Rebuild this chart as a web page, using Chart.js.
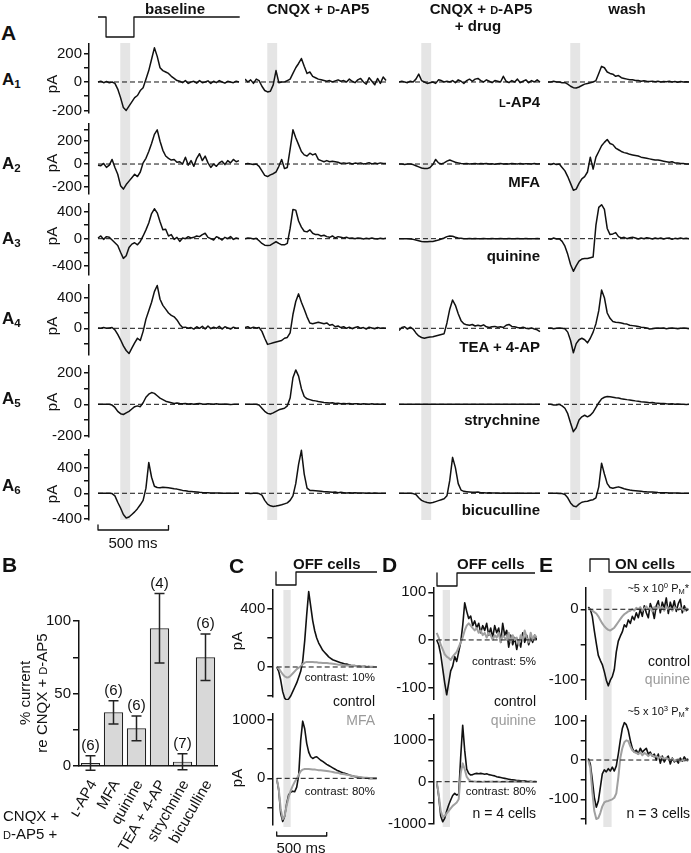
<!DOCTYPE html>
<html>
<head>
<meta charset="utf-8">
<title>Currents, panels A-E</title>
<script src="https://cdn.jsdelivr.net/npm/chart.js@4.4.1/dist/chart.umd.min.js"></script>
<style>
  html, body { margin: 0; padding: 0; background: #fff; }
  body { position: relative; width: 691px; height: 853px; overflow: hidden;
         font-family: "Liberation Sans", Arial, Helvetica, sans-serif; color: #111; }
  canvas { position: absolute; }
  .t { position: absolute; white-space: nowrap; line-height: 1; }
  .b { font-weight: bold; }
  .sc { font-variant: small-caps; }
  .g { color: #9a9a9a; }
  .t sub { font-size: 0.68em; vertical-align: -0.3em; }
  .t sup { font-size: 0.7em; vertical-align: 0.45em; }
</style>
</head>
<body>
<script>
// ---- time grid (ms), shared by all traces ----
const tA = [0,20,40,60,80,100,120,140,160,180,200,220,240,260,280,300,320,340,360,380,400,
  420,440,460,480,500,520,540,560,580,600,620,640,660,680,700,720,740,760,780,800,
  820,840,860,880,900,920,940,960,980,1000];

// ---- panel A traces (pA) ----
const a1Base = [0,5,-5,3,-5,0,-10,-50,-110,-180,-200,-170,-140,-110,-95,-60,-40,20,80,160,240,180,100,80,70,60,40,25,10,
  5,-5,10,-10,0,5,-8,10,-5,0,8,-10,5,-5,10,0,-8,5,0,-5,5,0];
const a1Cnqx = [20,0,15,-10,20,10,-30,-60,-70,-65,-20,80,-5,0,0,10,20,60,100,130,165,110,60,70,40,30,20,15,10,5,10,
  0,8,15,5,10,0,20,5,-5,15,25,0,-15,30,5,-20,25,-10,35,10];
const a1Drug = [0,5,0,-5,5,0,20,55,10,0,-10,-5,0,-10,15,10,0,5,0,10,-5,15,5,-10,10,20,5,20,25,10,
  0,15,5,-5,10,5,0,40,5,-5,10,0,20,-5,5,15,-5,10,0,15,0];
const a1Wash = [0,0,5,0,0,-5,-5,-15,-30,-40,-42,-35,-25,-15,-10,-5,0,10,60,110,100,70,60,55,40,45,30,25,20,15,
  15,10,10,5,8,5,3,6,2,5,0,4,2,5,0,3,-2,4,0,2,0];

const a2Base = [-10,-15,5,-30,-10,40,-30,-90,-190,-220,-180,-150,-120,-90,-110,-70,10,50,110,180,260,300,200,120,70,50,35,40,15,20,
  0,60,-10,30,-20,50,90,30,70,10,-30,0,-20,10,25,-5,30,10,40,20,30];
const a2Cnqx = [0,5,0,-5,0,-20,-60,-100,-110,-95,-85,-70,-20,40,-40,-30,130,300,230,170,110,80,70,95,80,90,40,30,20,30,
  20,25,20,15,5,10,5,10,0,8,5,10,0,5,12,0,8,3,10,5,5];
const a2Drug = [0,0,-5,0,0,-5,-15,-25,-35,-40,-40,-30,-5,40,10,0,10,25,35,25,15,10,5,3,5,0,3,5,0,4,
  2,5,0,3,-2,2,5,0,3,0,4,2,0,5,0,3,2,0,4,0,2];
const a2Wash = [0,-5,5,-5,0,-30,-60,-110,-170,-230,-220,-170,-130,-110,-70,60,-45,60,110,160,190,215,180,170,140,125,110,100,95,85,
  80,75,70,60,55,50,45,40,35,35,30,25,20,15,20,10,10,5,5,0,0];

const a3Base = [10,40,-10,30,20,-20,-60,-100,-200,-290,-250,-130,-80,-60,-90,-40,40,130,230,370,440,380,250,130,140,40,60,-10,20,-40,
  10,0,30,10,20,40,30,60,80,20,0,-20,30,10,-20,20,0,30,-10,10,0];
const a3Cnqx = [0,10,5,-5,5,-30,-70,-95,-100,-95,-70,-45,-70,-90,-90,-70,150,430,420,260,170,110,100,130,80,60,60,40,50,30,
  20,40,10,30,20,10,20,5,10,0,10,5,-5,5,0,10,0,-5,5,0,5];
const a3Drug = [0,0,0,0,-5,-10,-20,-30,-40,-45,-45,-40,-40,-30,-20,-5,10,30,40,35,20,10,5,0,0,3,0,2,0,0,
  3,0,0,2,0,0,3,0,0,2,0,0,3,0,0,2,0,0,0,3,0];
const a3Wash = [0,-10,10,-5,0,-40,-110,-230,-380,-480,-400,-330,-300,-290,-290,-280,-270,200,460,500,430,150,60,70,90,30,10,20,0,15,
  20,10,-5,10,0,15,5,-5,10,0,10,-5,5,10,-10,5,0,10,0,5,0];

const a4Base = [5,0,10,0,5,10,-20,-80,-150,-230,-290,-330,-260,-190,-130,-160,-40,120,230,340,480,560,380,300,250,200,170,150,110,50,
  10,15,0,10,-10,20,0,25,-10,30,-5,15,0,25,-10,20,5,-10,15,0,5];
const a4Cnqx = [10,20,0,15,5,10,-40,-130,-210,-200,-190,-180,-170,-160,-130,-120,-60,180,350,450,340,250,150,70,60,70,80,70,60,70,
  40,50,20,30,10,20,0,15,-5,10,20,0,10,-10,15,5,-5,10,0,5,0];
const a4Drug = [-30,10,20,-10,15,-10,-60,-100,-120,-130,-120,-115,-110,-100,-90,-80,-70,70,250,370,300,190,100,60,45,40,50,30,40,30,
  45,20,10,20,25,15,20,10,40,50,25,20,10,5,15,0,-5,5,-10,-20,-45];
const a4Wash = [0,5,-5,0,5,0,-5,-50,-160,-320,-200,-150,-130,-150,-190,-130,-50,60,230,500,400,200,130,90,80,75,70,60,55,40,
  35,30,25,15,10,5,-10,-5,0,5,0,5,-5,0,5,0,-5,0,5,0,-5];

const a5Base = [0,0,0,0,0,-5,-20,-45,-60,-65,-55,-45,-30,-15,-10,-15,10,45,65,75,70,55,40,30,20,15,10,5,8,5,
  3,5,2,4,0,3,5,2,0,3,2,0,3,1,0,2,0,-2,0,1,0];
const a5Cnqx = [0,0,0,0,0,-5,-25,-45,-58,-62,-55,-45,-35,-30,-25,-10,40,170,220,180,100,50,35,30,25,22,18,15,12,10,
  8,10,5,7,4,6,3,5,2,4,3,1,4,2,0,3,1,2,0,2,1];
const a5Drug = [0,0,0,0,0,0,0,0,0,0,0,0,0,0,0,0,0,0,0,0,0,0,0,0,0,0,0,0,0,0,
  0,0,0,0,0,0,0,0,0,0,0,0,0,0,0,0,0,0,0,0,0];
const a5Wash = [0,0,-5,-5,0,-10,-25,-60,-120,-175,-150,-100,-80,-70,-80,-70,-50,-20,10,35,45,50,48,45,42,40,36,33,30,28,
  25,22,20,17,15,13,10,12,8,7,5,6,3,2,3,0,2,0,0,-2,0];

const a6Base = [0,0,0,0,0,-5,-40,-140,-230,-330,-385,-370,-330,-290,-240,-180,-110,80,480,250,110,90,85,95,90,85,80,70,65,55,
  45,40,30,28,25,20,15,12,10,8,5,5,3,3,2,2,0,0,0,0,0];
const a6Cnqx = [0,0,-5,0,0,-5,-30,-110,-170,-195,-205,-200,-190,-180,-165,-150,-110,-40,150,450,670,300,80,45,45,40,35,30,25,25,
  20,15,20,10,15,10,5,8,5,10,5,3,6,2,5,0,3,0,2,0,0];
const a6Drug = [0,0,0,0,0,-5,-20,-70,-110,-130,-145,-150,-145,-130,-115,-100,-85,-40,200,560,400,150,50,30,25,20,15,15,20,10,
  10,5,10,5,3,5,2,4,0,3,2,0,3,0,2,0,0,2,0,0,0];
const a6Wash = [0,0,0,0,-5,-5,-20,-70,-150,-200,-210,-170,-140,-130,-125,-110,-100,-70,100,470,300,150,90,80,90,100,85,70,60,50,
  45,40,35,30,25,22,20,18,15,12,10,10,8,5,5,5,3,0,0,2,0];

// ---- panel B ----
const drugs = ['\u029F-AP4', 'MFA', 'quinine', 'TEA + 4-AP', 'strychnine', 'bicuculline'];
const pct = [2, 37, 26, 95, 3, 75];
const sem = [5, 8, 8.5, 24, 5.5, 16];
const nCells = [6, 6, 6, 4, 7, 6];

// ---- panel C (OFF cells, control vs MFA) ----
const cTopCtl = [0,-30,-90,-170,-215,-230,-220,-200,-170,-140,-110,-70,-30,40,180,360,520,420,320,250,200,165,140,115,100,85,70,60,50,45,
  40,35,30,25,20,20,15,12,10,10,5,8,5,3,5,0,3,0,2,0,0];
const cTopMfa = [0,-10,-30,-50,-65,-72,-70,-60,-45,-30,-15,-5,5,20,30,35,35,35,35,33,32,30,30,28,28,27,25,24,22,20,
  18,16,15,13,12,10,10,8,7,6,5,5,4,3,3,2,2,1,1,0,0];
const cBotCtl = [0,-200,-600,-740,-650,-430,-280,-240,-220,-230,-150,50,650,980,850,600,450,370,340,360,370,340,310,290,265,240,220,200,180,160,
  140,125,110,95,85,75,60,50,40,30,25,20,15,10,5,5,0,0,0,0,0];
const cBotMfa = [0,-180,-520,-700,-640,-460,-320,-210,-130,-60,-10,60,120,150,160,160,160,155,150,150,145,140,140,135,130,125,120,115,110,100,
  95,90,80,75,70,60,55,50,40,35,30,25,20,15,10,8,5,3,0,0,0];

// ---- panel D (OFF cells, control vs quinine) ----
const dTopCtl = [0,-10,-30,-60,-90,-115,-90,-65,-55,-35,-45,-25,-5,30,78,60,45,50,30,40,25,35,15,30,20,35,10,25,5,30,
  15,25,-5,35,10,20,-15,10,-10,5,-20,0,-15,15,-5,10,-10,5,-5,10,0];
const dTopQui = [15,5,-10,-20,-30,-35,-38,-42,-35,-30,-25,-15,-5,5,20,30,35,30,25,20,25,15,20,10,15,5,15,10,0,10,
  5,15,-5,10,5,0,15,-5,10,0,5,-10,10,0,20,5,-5,15,0,10,5];
const dBotCtl = [0,-350,-820,-960,-880,-700,-560,-440,-330,-280,-320,-300,600,1350,750,300,200,160,170,190,200,190,200,190,180,190,170,160,150,140,
  120,110,100,90,80,70,60,50,45,40,30,25,20,15,20,10,5,10,0,5,0];
const dBotQui = [0,-300,-700,-850,-820,-760,-700,-640,-580,-540,-500,-420,200,440,300,120,50,20,10,5,0,5,0,-5,5,0,3,-3,5,0,
  3,0,-5,2,0,5,0,-3,2,0,3,0,-2,0,2,0,-3,0,2,0,0];

// ---- panel E (ON cells, control vs quinine) ----
const eTopCtl = [3,0,-10,-30,-48,-65,-72,-78,-88,-100,-108,-100,-95,-85,-60,-45,-38,-32,-22,-25,-15,-20,-10,-15,-5,-12,0,-10,5,-5,
  -12,8,0,-13,5,12,-5,10,2,16,-6,10,0,12,-3,8,14,-5,5,-2,0];
const eTopQui = [0,0,-2,-4,-6,-10,-15,-20,-24,-27,-29,-30,-28,-26,-22,-18,-14,-10,-7,-5,-3,-2,0,-2,2,0,3,-2,1,4,
  0,2,-3,3,0,5,1,3,-2,4,0,2,-2,3,1,-1,2,0,-2,1,0];
const eBotCtl = [4,-10,-50,-95,-120,-105,-70,-35,-25,-30,-22,-28,-18,-28,-15,15,50,80,95,90,75,50,30,20,25,15,30,20,25,30,
  15,20,10,15,0,15,-8,10,-5,5,10,-10,5,-5,0,-8,5,-3,8,0,3];
const eBotQui = [0,-20,-80,-130,-150,-148,-135,-118,-108,-105,-104,-102,-100,-96,-85,-45,5,30,45,50,48,35,25,20,18,15,20,12,18,15,
  10,15,12,8,10,5,8,6,3,5,2,0,3,-2,0,2,-3,0,-2,0,-3];

// ---- light steps and scale bars (ms, level) ----
const stepOffT = [0, 57, 57, 255, 255, 1005];
const stepOffV = [1, 1, 0, 0, 1, 1];
const stepCT = [-7, -7, 193, 193, 1003];
const stepCV = [1, 0, 0, 1, 1];
const stepDT = [3, 3, 203, 203, 983];
const stepDV = [1, 0, 0, 1, 1];
const stepET = [17, 17, 207, 207, 1025];
const stepEV = [0, 1, 1, 0, 0];
const barT = [0, 0, 500, 500];
const barV = [1, 0, 0, 1];
const zeroT = [0, 1000];
const zeroV = [0, 0];

// ------------------------------------------------------------------
const INK = '#111';
const GRAY = '#a0a0a0';
const FONT = '"Liberation Sans", Arial, Helvetica, sans-serif';
Chart.defaults.font.family = FONT;
Chart.defaults.color = INK;

const bandPlugin = {
  id: 'band',
  beforeDatasetsDraw(chart, args, o) {
    if (!o || o.from == null) return;
    const x = chart.scales.x;
    const a = x.getPixelForValue(o.from), b = x.getPixelForValue(o.to);
    const ctx = chart.ctx;
    ctx.save();
    ctx.fillStyle = '#e5e5e5';
    ctx.fillRect(a, o.top, b - a, o.bottom - o.top);
    ctx.restore();
  }
};

// numbers on the y axis, placed with the y scale
const yLabelPlugin = {
  id: 'ylab',
  afterDraw(chart, args, o) {
    if (!o || !o.vals) return;
    const s = chart.scales.y, ctx = chart.ctx;
    ctx.save();
    ctx.font = o.size + 'px ' + FONT;
    ctx.fillStyle = INK;
    ctx.textAlign = 'right';
    ctx.textBaseline = 'middle';
    o.vals.forEach(v => ctx.fillText(String(v), chart.chartArea.left - 7, s.getPixelForValue(v)));
    ctx.restore();
  }
};

function multiples(lo, hi, step) {
  const out = [];
  for (let v = Math.ceil(lo / step) * step; v <= hi; v += step) out.push(v);
  return out;
}

function plot(o) {
  const [left, top, w, h] = o.box;
  const c = document.createElement('canvas');
  c.width = w; c.height = h;
  c.style.left = left + 'px'; c.style.top = top + 'px';
  c.style.width = w + 'px'; c.style.height = h + 'px';
  document.body.appendChild(c);
  const hasAxis = o.axisX != null;
  const axisW = hasAxis ? o.axisX - left : 0;
  const aL = left + axisW, aR = left + w;
  const yAxis = hasAxis ? {
    display: true, min: o.y[0], max: o.y[1],
    border: { display: true, color: INK, width: 1.5 },
    grid: { drawOnChartArea: false, drawTicks: true, tickLength: 5, color: INK, lineWidth: 1.5 },
    ticks: { display: false, autoSkip: false },
    afterBuildTicks: s => { s.ticks = multiples(o.y[0], o.y[1], o.step).map(v => ({ value: v })); },
    afterFit: s => { s.width = axisW; s.paddingTop = 0; s.paddingBottom = 0; }
  } : { display: false, min: o.y[0], max: o.y[1] };
  return new Chart(c, {
    type: 'line',
    data: {
      datasets: o.sets.map(s => ({
        data: s.t.map((t, i) => ({ x: t, y: s.v[i] })),
        borderColor: s.color || INK,
        borderWidth: s.width || 1.5,
        borderDash: s.dash || [],
        borderJoinStyle: 'round',
        pointRadius: 0, tension: 0, fill: false, clip: false
      }))
    },
    options: {
      responsive: false, animation: false, devicePixelRatio: 1, events: [],
      layout: { padding: { left: 0, right: 0, top: o.area[0] - top, bottom: top + h - o.area[1] } },
      plugins: {
        legend: { display: false }, tooltip: { enabled: false },
        band: o.band ? { from: o.band[0], to: o.band[1], top: o.band[2] - top, bottom: o.band[3] - top } : false,
        ylab: hasAxis ? { vals: multiples(o.y[0], o.y[1], o.every), size: o.font || 15 } : false
      },
      scales: {
        x: { type: 'linear', display: false, min: (aL - o.x0) / o.k, max: (aR - o.x0) / o.k },
        y: yAxis
      }
    },
    plugins: [bandPlugin, yLabelPlugin]
  });
}

function txt(html, x, y, size, opt) {
  opt = opt || {};
  const d = document.createElement('div');
  d.className = 't' + (opt.cls ? ' ' + opt.cls : '');
  d.innerHTML = html;
  d.style.fontSize = size + 'px';
  d.style.left = x + 'px';
  d.style.top = y + 'px';
  const ax = opt.align === 'r' ? '-100%' : opt.align === 'l' ? '0' : '-50%';
  d.style.transform = 'translate(' + ax + ',-50%)' + (opt.rot ? ' rotate(-90deg)' : '');
  document.body.appendChild(d);
}

// ---------------- panel A ----------------
const K_A = 0.141;                    // px per ms
const colX = [98, 245, 399, 548];     // where t = 0 sits in each column
const rowsA = [
  { v: [a1Base, a1Cnqx, a1Drug, a1Wash], top: 43, bot: 118, area: [44, 113], y: [-218, 267], step: 100, every: 200,
    drug: '<span class="sc">l</span>-AP4', drugY: 101, labY: 81, pAY: 84 },
  { v: [a2Base, a2Cnqx, a2Drug, a2Wash], top: 118, bot: 199, area: [124, 194], y: [-263, 351], step: 100, every: 200,
    drug: 'MFA', drugY: 181, labY: 165, pAY: 163 },
  { v: [a3Base, a3Cnqx, a3Drug, a3Wash], top: 199, bot: 280, area: [204, 275], y: [-534, 510], step: 200, every: 400,
    drug: 'quinine', drugY: 255, labY: 240, pAY: 236 },
  { v: [a4Base, a4Cnqx, a4Drug, a4Wash], top: 280, bot: 360, area: [285, 355], y: [-349, 566], step: 200, every: 400,
    drug: 'TEA + 4-AP', drugY: 346, labY: 320, pAY: 326 },
  { v: [a5Base, a5Cnqx, a5Drug, a5Wash], top: 360, bot: 443, area: [366, 437], y: [-209, 245], step: 100, every: 200,
    drug: 'strychnine', drugY: 419, labY: 400, pAY: 402 },
  { v: [a6Base, a6Cnqx, a6Drug, a6Wash], top: 443, bot: 534, area: [450, 519.5], y: [-409, 675], step: 200, every: 400,
    drug: 'bicuculline', drugY: 509, labY: 487, pAY: 494 }
];

rowsA.forEach((r, ri) => {
  colX.forEach((x0, ci) => {
    const left = ci === 0 ? 40 : x0;
    const right = ci === 0 ? 240 : x0 + 142;
    plot({
      box: [left, r.top, right - left, r.bot - r.top], area: r.area,
      axisX: ci === 0 ? 89 : null, x0: x0, k: K_A,
      y: r.y, step: r.step, every: r.every,
      band: [158, 228, Math.max(43, r.top), Math.min(520, r.bot)],
      sets: [
        { t: zeroT, v: zeroV, dash: [5, 3], width: 1 },
        { t: tA, v: r.v[ci] }
      ]
    });
  });
  txt('A<sub>' + (ri + 1) + '</sub>', 2, r.labY, 17, { cls: 'b', align: 'l' });
  txt('pA', 51, r.pAY, 15, { rot: true });
  txt(r.drug, 540, r.drugY, 15, { cls: 'b', align: 'r' });
});

plot({ box: [94, 10, 150, 32], area: [17, 37], x0: 98, k: K_A, y: [0, 1],
       sets: [{ t: stepOffT, v: stepOffV, width: 1.3 }] });
plot({ box: [94, 520, 80, 14], area: [525, 530], x0: 98, k: K_A, y: [0, 1],
       sets: [{ t: barT, v: barV, width: 1.3 }] });

txt('A', 1, 32, 21, { cls: 'b', align: 'l' });
txt('baseline', 175, 8, 15, { cls: 'b' });
txt('CNQX + <span class="sc">d</span>-AP5', 318, 8, 15, { cls: 'b' });
txt('CNQX + <span class="sc">d</span>-AP5', 481, 8, 15, { cls: 'b' });
txt('+ drug', 478, 25, 15, { cls: 'b' });
txt('wash', 627, 8, 15, { cls: 'b' });
txt('500 ms', 133, 542, 15);

// ---------------- panel B ----------------
const errPlugin = {
  id: 'err',
  afterDatasetsDraw(chart) {
    const meta = chart.getDatasetMeta(0), y = chart.scales.y, ctx = chart.ctx;
    ctx.save();
    ctx.strokeStyle = '#222'; ctx.lineWidth = 1.5;
    ctx.fillStyle = INK;
    ctx.font = '15px ' + FONT;
    ctx.textAlign = 'center'; ctx.textBaseline = 'middle';
    meta.data.forEach((bar, i) => {
      const hi = y.getPixelForValue(pct[i] + sem[i]);
      const lo = y.getPixelForValue(pct[i] - sem[i]);
      ctx.beginPath();
      ctx.moveTo(bar.x, hi); ctx.lineTo(bar.x, lo);
      ctx.moveTo(bar.x - 5, hi); ctx.lineTo(bar.x + 5, hi);
      ctx.moveTo(bar.x - 5, lo); ctx.lineTo(bar.x + 5, lo);
      ctx.stroke();
      ctx.fillText('(' + nCells[i] + ')', bar.x, hi - 10);
    });
    ctx.restore();
  }
};

(function () {
  const c = document.createElement('canvas');
  const left = 0, top = 570, w = 222, h = 283;
  c.width = w; c.height = h;
  c.style.left = left + 'px'; c.style.top = top + 'px';
  c.style.width = w + 'px'; c.style.height = h + 'px';
  document.body.appendChild(c);
  new Chart(c, {
    type: 'bar',
    data: {
      labels: drugs,
      datasets: [{ data: pct, backgroundColor: '#d8d8d8', borderColor: '#222', borderWidth: 1.2,
                   barPercentage: 0.84, categoryPercentage: 1 }]
    },
    options: {
      responsive: false, animation: false, devicePixelRatio: 1, events: [],
      layout: { padding: { top: 51, right: 5, left: 0, bottom: 0 } },
      plugins: { legend: { display: false }, tooltip: { enabled: false } },
      scales: {
        x: {
          grid: { display: false },
          border: { display: true, color: INK, width: 1.5 },
          ticks: { minRotation: 60, maxRotation: 60, autoSkip: false, color: INK, padding: 3, labelOffset: 3,
                   font: { size: 15 } },
          afterFit: s => { s.height = 87; s.paddingLeft = 0; s.paddingRight = 0; }
        },
        y: {
          min: 0, max: 100,
          border: { display: true, color: INK, width: 1.5 },
          grid: { drawOnChartArea: false, tickLength: 6, color: INK, lineWidth: 1.5 },
          ticks: { stepSize: 25, autoSkip: false, padding: 2, color: INK, font: { size: 15 },
                   callback: v => (v % 50 === 0 ? String(v) : '') },
          afterFit: s => { s.width = 79; s.paddingTop = 0; s.paddingBottom = 0; }
        }
      }
    },
    plugins: [errPlugin]
  });
})();

txt('B', 2, 564, 21, { cls: 'b', align: 'l' });
txt('% current', 24, 693, 15, { rot: true });
txt('re CNQX + <span class="sc">d</span>-AP5', 41, 693, 15, { rot: true });
txt('CNQX +', 3, 815, 15, { align: 'l' });
txt('<span class="sc">d</span>-AP5 +', 3, 833, 15, { align: 'l' });

// ---------------- panels C, D, E ----------------
const K_C = 0.1;
function pair(p) {
  plot({ box: p.topBox, area: p.topArea, axisX: p.axisX, x0: p.x0, k: K_C,
         y: p.topY, step: p.topStep, every: p.topEvery,
         band: [p.band[0], p.band[1], p.bandTop, p.topBox[1] + p.topBox[3]],
         sets: [{ t: zeroT, v: zeroV, dash: [5, 3], width: 1 },
                { t: tA, v: p.topB, color: GRAY, width: 2 },
                { t: tA, v: p.topA, width: 1.6 }] });
  plot({ box: p.botBox, area: p.botArea, axisX: p.axisX, x0: p.x0, k: K_C,
         y: p.botY, step: p.botStep, every: p.botEvery,
         band: [p.band[0], p.band[1], p.botBox[1], p.bandBot],
         sets: [{ t: zeroT, v: zeroV, dash: [5, 3], width: 1 },
                { t: tA, v: p.botB, color: GRAY, width: 2 },
                { t: tA, v: p.botA, width: 1.6 }] });
}

pair({ x0: 276.7, axisX: 272.3, band: [67, 140], bandTop: 590, bandBot: 827,
       topBox: [230, 586, 147, 114], topArea: [590, 697], topY: [-207, 531], topStep: 200, topEvery: 400,
       topA: cTopCtl, topB: cTopMfa,
       botBox: [226, 700, 151, 132], botArea: [713.3, 825], botY: [-800, 1115], botStep: 500, botEvery: 1000,
       botA: cBotCtl, botB: cBotMfa });
pair({ x0: 436.7, axisX: 433.3, band: [60, 133], bandTop: 590, bandBot: 827,
       topBox: [388, 578, 149, 122], topArea: [588, 700], topY: [-126, 109], topStep: 50, topEvery: 100,
       topA: dTopCtl, topB: dTopQui,
       botBox: [386, 700, 151, 134], botArea: [715, 823.4], botY: [-1000, 1600], botStep: 500, botEvery: 1000,
       botA: dBotCtl, botB: dBotQui });
pair({ x0: 588.3, axisX: 585.7, band: [150, 233], bandTop: 589, bandBot: 827,
       topBox: [543, 578, 148, 122], topArea: [588, 700], topY: [-128, 30], topStep: 50, topEvery: 100,
       topA: eTopCtl, topB: eTopQui,
       botBox: [543, 700, 148, 130], botArea: [716, 823.3], botY: [-161, 112], botStep: 50, botEvery: 100,
       botA: eBotCtl, botB: eBotQui });

plot({ box: [272, 565, 110, 25], area: [572, 585], x0: 276.7, k: K_C, y: [0, 1],
       sets: [{ t: stepCT, v: stepCV, width: 1.3 }] });
plot({ box: [432, 566, 108, 25], area: [573, 586], x0: 436.7, k: K_C, y: [0, 1],
       sets: [{ t: stepDT, v: stepDV, width: 1.3 }] });
plot({ box: [585, 554, 106, 22], area: [559, 572], x0: 588.3, k: K_C, y: [0, 1],
       sets: [{ t: stepET, v: stepEV, width: 1.3 }] });
plot({ box: [272, 828, 60, 12], area: [832, 836], x0: 276.7, k: K_C, y: [0, 1],
       sets: [{ t: barT, v: barV, width: 1.3 }] });

txt('C', 229, 565, 21, { cls: 'b', align: 'l' });
txt('D', 382, 564, 21, { cls: 'b', align: 'l' });
txt('E', 539, 564, 21, { cls: 'b', align: 'l' });
txt('OFF cells', 293, 563, 15, { cls: 'b', align: 'l' });
txt('OFF cells', 457, 563, 15, { cls: 'b', align: 'l' });
txt('ON cells', 615, 563, 15, { cls: 'b', align: 'l' });

txt('pA', 236, 641, 15, { rot: true });
txt('pA', 236, 778, 15, { rot: true });
txt('contrast: 10%', 375, 678, 11.5, { align: 'r' });
txt('control', 375, 701, 14, { align: 'r' });
txt('MFA', 375, 720, 14, { align: 'r', cls: 'g' });
txt('contrast: 80%', 375, 792, 11.5, { align: 'r' });
txt('500 ms', 301, 847, 15);

txt('contrast: 5%', 536, 662, 11.5, { align: 'r' });
txt('control', 536, 701, 14, { align: 'r' });
txt('quinine', 536, 720, 14, { align: 'r', cls: 'g' });
txt('contrast: 80%', 536, 792, 11.5, { align: 'r' });
txt('n = 4 cells', 536, 813, 14, { align: 'r' });

txt('~5 x 10<sup>0</sup> P<sub>M</sub>*', 689, 589, 11, { align: 'r' });
txt('control', 690, 661, 14, { align: 'r' });
txt('quinine', 690, 679, 14, { align: 'r', cls: 'g' });
txt('~5 x 10<sup>3</sup> P<sub>M</sub>*', 689, 712, 11, { align: 'r' });
txt('n = 3 cells', 690, 813, 14, { align: 'r' });
</script>
</body>
</html>
